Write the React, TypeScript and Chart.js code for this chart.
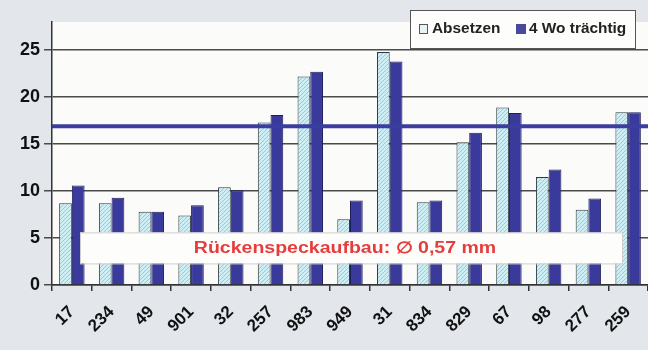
import React, { useEffect, useRef } from "react";
import { Chart, registerables } from "chart.js";

Chart.register(...registerables);

const categories = ["17", "234", "49", "901", "32", "257", "983", "949", "31", "834", "829", "67", "98", "277", "259"];
const absetzen = [8.7, 8.7, 7.8, 7.4, 10.4, 17.3, 22.2, 7.0, 24.8, 8.8, 15.2, 18.9, 11.5, 8.0, 18.4];
const traechtig = [10.6, 9.3, 7.8, 8.5, 10.1, 18.1, 22.7, 9.0, 23.8, 9.0, 16.2, 18.3, 12.3, 9.2, 18.4];
const yTicks = [0, 5, 10, 15, 20, 25];
const meanLine = 16.9;
const seriesNames = ["Absetzen", "4 Wo trächtig"];
const annotationText = "Rückenspeckaufbau: \u2205 0,57 mm";

const FONT = "'Liberation Sans', Arial, sans-serif";

function makeHatch(): CanvasPattern | string {
  const c = document.createElement("canvas");
  c.width = 4;
  c.height = 4;
  const g = c.getContext("2d");
  if (!g) return "#c6eaf0";
  g.fillStyle = "#cdeef4";
  g.fillRect(0, 0, 4, 4);
  g.fillStyle = "#96ccda";
  g.fillRect(0, 3, 1, 1);
  g.fillRect(1, 2, 1, 1);
  g.fillRect(2, 1, 1, 1);
  g.fillRect(3, 0, 1, 1);
  const p = g.createPattern(c, "repeat");
  return p || "#c6eaf0";
}

function wideText(ctx: CanvasRenderingContext2D, text: string, x: number, y: number, sx: number, align: CanvasTextAlign) {
  ctx.save();
  ctx.translate(x, y);
  ctx.scale(sx, 1);
  ctx.textAlign = align;
  ctx.fillText(text, 0, 0);
  ctx.restore();
}

const decorPlugin = {
  id: "decor",
  beforeDraw(chart: any) {
    const { ctx, chartArea, width, height } = chart;
    ctx.save();
    ctx.fillStyle = "#e3e7ec";
    ctx.fillRect(0, 0, width, height);
    ctx.fillStyle = "#fbfbf9";
    ctx.fillRect(chartArea.left, chartArea.top, chartArea.right - chartArea.left, chartArea.bottom - chartArea.top);
    ctx.restore();
  },
  afterDatasetsDraw(chart: any) {
    const { ctx, chartArea, scales } = chart;
    const y = scales.y;
    ctx.save();
    // mean line
    const my = y.getPixelForValue(meanLine);
    ctx.strokeStyle = "#3a3e9e";
    ctx.lineWidth = 4;
    ctx.beginPath();
    ctx.moveTo(chartArea.left, my);
    ctx.lineTo(chartArea.right, my);
    ctx.stroke();

    // annotation box
    const bx0 = chartArea.left + 28;
    const bx1 = chartArea.right - 26;
    const by0 = y.getPixelForValue(5.6);
    const by1 = y.getPixelForValue(2.3);
    ctx.fillStyle = "#fdfdfb";
    ctx.fillRect(bx0, by0, bx1 - bx0, by1 - by0);
    ctx.strokeStyle = "#cfcfcf";
    ctx.lineWidth = 1;
    ctx.strokeRect(bx0 + 0.5, by0 + 0.5, bx1 - bx0, by1 - by0);
    ctx.fillStyle = "#e63c3c";
    ctx.font = `bold 16px ${FONT}`;
    ctx.textBaseline = "middle";
    wideText(ctx, annotationText, 345, (by0 + by1) / 2 + 1, 1.22, "center");

    // legend box
    const lx0 = 410, ly0 = 10, lx1 = 635, ly1 = 48;
    ctx.fillStyle = "#fdfdfb";
    ctx.fillRect(lx0, ly0, lx1 - lx0, ly1 - ly0);
    ctx.strokeStyle = "#555";
    ctx.lineWidth = 1;
    ctx.strokeRect(lx0 + 0.5, ly0 + 0.5, lx1 - lx0, ly1 - ly0);
    const cy = 29;
    ctx.font = `bold 14px ${FONT}`;
    ctx.textBaseline = "middle";
    ctx.fillStyle = "#e8f4f4";
    ctx.fillRect(419, cy - 5, 9, 10);
    ctx.strokeStyle = "#555";
    ctx.strokeRect(419.5, cy - 4.5, 8, 9);
    ctx.fillStyle = "#222";
    wideText(ctx, seriesNames[0], 432, cy, 1.1, "left");
    ctx.fillStyle = "#4a4a9c";
    ctx.fillRect(516, cy - 5, 10, 10);
    ctx.fillStyle = "#222";
    wideText(ctx, seriesNames[1], 529, cy, 1.1, "left");
    ctx.restore();
  },
};

export default function App() {
  const ref = useRef<HTMLCanvasElement>(null);
  useEffect(() => {
    document.body.style.margin = "0";
    const canvas = ref.current;
    if (!canvas) return;
    const hatch = makeHatch();
    const chart = new Chart(canvas, {
      type: "bar",
      data: {
        labels: categories,
        datasets: [
          {
            label: seriesNames[0],
            data: absetzen,
            backgroundColor: hatch as any,
            borderColor: "#2f3b40",
            borderWidth: 1,
            categoryPercentage: 0.64,
            barPercentage: 1,
          },
          {
            label: seriesNames[1],
            data: traechtig,
            backgroundColor: "#3a3a9c",
            borderColor: "#1e1e5a",
            borderWidth: 1,
            categoryPercentage: 0.64,
            barPercentage: 1,
          },
        ],
      },
      options: {
        responsive: false,
        animation: false,
        layout: { padding: { top: 22, right: 0, left: 0, bottom: 0 } },
        plugins: { legend: { display: false }, tooltip: { enabled: false } },
        scales: {
          x: {
            grid: { drawOnChartArea: false, drawTicks: true, tickLength: 6, color: "#333", lineWidth: 1.5 },
            border: { display: true, color: "#333", width: 1.5 },
            ticks: {
              autoSkip: false,
              minRotation: 45,
              maxRotation: 45,
              color: "#111",
              font: { family: FONT, size: 17, weight: "bold" },
              padding: 11,
            },
            afterFit: (s: any) => {
              s.height = 65;
              s.paddingLeft = 0;
              s.paddingRight = 0;
            },
          },
          y: {
            min: 0,
            max: 28,
            afterBuildTicks: (s: any) => {
              s.ticks = yTicks.map((v) => ({ value: v }));
            },
            grid: { color: "#4a4a4a", lineWidth: 1.5, tickLength: 8 },
            border: { display: true, color: "#333", width: 1.5 },
            ticks: {
              color: "#111",
              font: { family: FONT, size: 18, weight: "bold" },
              padding: 4,
            },
            afterFit: (s: any) => {
              s.width = 52;
              s.paddingTop = 0;
              s.paddingBottom = 0;
            },
          },
        },
      },
      plugins: [decorPlugin],
    });
    return () => chart.destroy();
  }, []);
  return <canvas ref={ref} width={648} height={350} style={{ display: "block" }} />;
}
